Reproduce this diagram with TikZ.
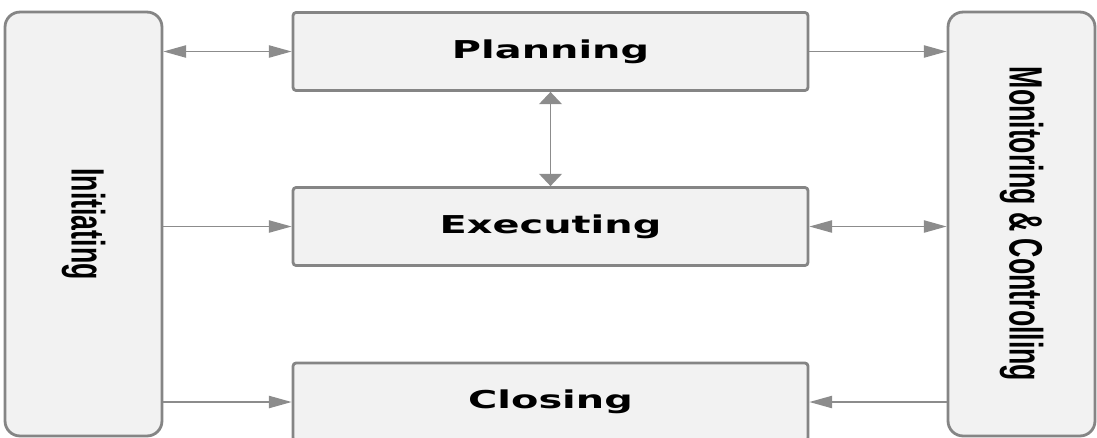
\documentclass[tikz,border=0pt]{standalone}
\usepackage{fontspec}
\usepackage{graphicx}
\usepackage{tikz}
\usetikzlibrary{arrows.meta, positioning}
\newfontfamily\phasefont{DejaVu Sans}
\newfontfamily\sidefont{Liberation Sans}
\definecolor{boxgray}{RGB}{133, 133, 133}
\definecolor{boxfill}{RGB}{242, 242, 242}
\definecolor{arrowgray}{RGB}{140, 140, 140}
\newcommand{\widetext}[1]{\scalebox{1.62}[1]{#1}}
\newcommand{\talltext}[1]{\scalebox{1}[1.75]{#1}}

\begin{document}
\begin{tikzpicture}[x=0.02cm, y=-0.02cm, >={Triangle[length=13pt,width=7pt]},
  phase/.style={draw=boxgray, fill=boxfill, line width=1.6pt, rounded corners=0.06cm,
    minimum width=10.3cm, minimum height=1.56cm,
    font=\phasefont\bfseries\fontsize{14}{16}\selectfont},
  sidephase/.style={draw=boxgray, fill=boxfill, line width=1.6pt, rounded corners=0.3cm,
    rotate=-90, minimum width=8.48cm, font=\sidefont\bfseries\fontsize{15.2}{18}\selectfont},
  link/.style={line width=0.85pt, draw=arrowgray, fill=arrowgray}]

\useasboundingbox (0,0) rectangle (1097,437);

% Side phases (run over the whole height)
\node[sidephase, minimum height=3.14cm] at (83.5,224) (init) {\talltext{Initiating}};
\node[sidephase, minimum height=2.94cm] at (1021.5,224) (moni) {\talltext{Monitoring \& Controlling}};

% Middle phases
\node[phase] at (550.5,51.5) (plan) {\widetext{Planning}};
\node[phase] at (550.5,226.5) (exec) {\widetext{Executing}};
\node[phase] at (550.5,402) (clos) {\widetext{Closing}};

% Connections from the left
\draw[link,<->] (init.north |- plan.west) -- (plan.west);
\draw[link,->] (init.north |- exec.west) -- (exec.west);
\draw[link,->] (init.north |- clos.west) -- (clos.west);

% Connections to and from the right
\draw[link,->] (plan.east) -- (moni.south |- plan.east);
\draw[link,<->] (exec.east) -- (moni.south |- exec.east);
\draw[link,->] (moni.south |- clos.east) -- (clos.east);

% Planning <-> Executing
\draw[link,{Triangle[length=7pt,width=13pt]}-{Triangle[length=7pt,width=13pt]}]
  (plan.south) -- (exec.north);
\end{tikzpicture}
\end{document}
